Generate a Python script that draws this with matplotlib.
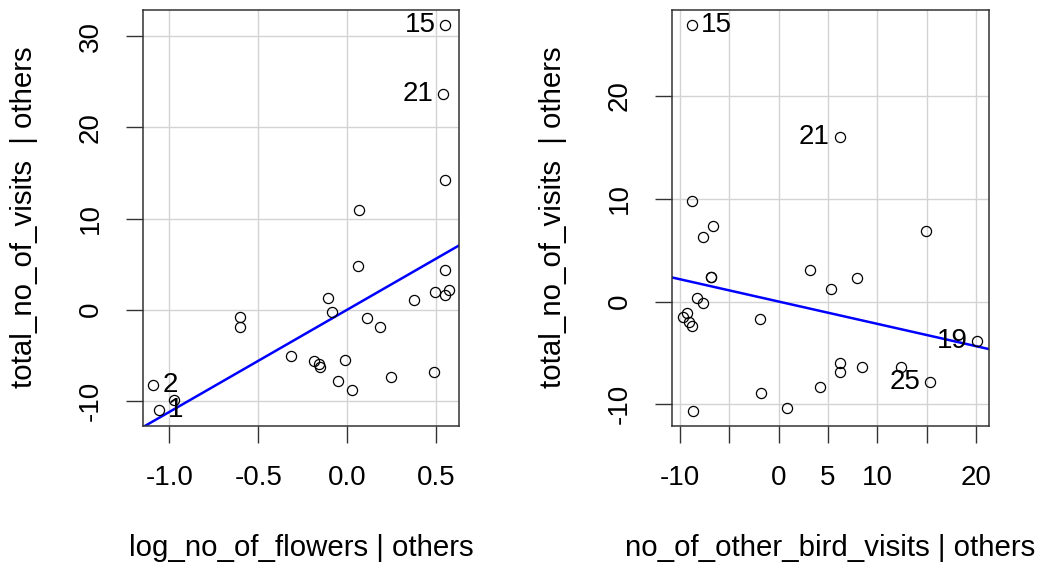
import numpy as np
import matplotlib
matplotlib.use('Agg')
import matplotlib.pyplot as plt

plt.rcParams['font.family'] = ['Liberation Sans', 'DejaVu Sans']

# added-variable plot 1: log_no_of_flowers
flowers_x = [0.552, 0.541, 0.552, 0.069, 0.060, 0.551, 0.496, 0.551, 0.570, 0.375,
             -0.109, -0.086, -0.601, -0.601, 0.112, 0.187, -0.315, -0.184, -0.160, -0.155,
             -0.011, -0.049, 0.028, 0.244, 0.489, -1.090, -0.976, -1.060]
flowers_y = [31.2, 23.6, 14.2, 10.95, 4.8, 4.4, 1.97, 1.64, 2.19, 1.1,
             1.24, -0.25, -0.8, -1.9, -0.9, -1.9, -5.04, -5.6, -6.0, -6.3,
             -5.5, -7.85, -8.76, -7.4, -6.8, -8.3, -9.86, -11.0]
flowers_labels = {0: '15', 1: '21', 25: '2', 27: '1'}
flowers_slope = 11.2

# added-variable plot 2: no_of_other_bird_visits
birds_x = [-8.82, 6.18, -8.82, -6.69, -7.70, 14.9, 3.17, 7.97, 5.34, -6.89,
           -6.85, -8.24, -7.64, -9.32, -9.73, -9.06, -8.82, -1.93, 20.13, 6.18,
           6.18, 8.41, 12.43, 15.34, 4.22, -1.75, 0.81, -8.68]
birds_y = [26.9, 16.04, 9.77, 7.37, 6.27, 6.85, 3.09, 2.27, 1.2, 2.43,
           2.35, 0.33, -0.16, -1.13, -1.52, -1.95, -2.37, -1.72, -3.8, -5.95,
           -6.89, -6.4, -6.34, -7.8, -8.36, -8.89, -10.31, -10.64]
birds_labels = {0: '15', 1: '21', 18: '19', 23: '25'}
birds_slope = -0.217

fs = 20      # tick labels and point ids
fs_lab = 21.2  # axis titles
W, H = 1039, 569
fig = plt.figure(figsize=(W / 100, H / 100), dpi=100)


def av_panel(rect, x, y, labels, slope, xlim, ylim, xticks, xticklabels, yticks, xlabel):
    ax = fig.add_axes(rect)
    ax.grid(True, color='#d3d3d3', lw=1)
    ax.set_axisbelow(True)
    ax.plot(x, y, 'o', mfc='none', mec='black', ms=7.3, mew=0.9, zorder=3)
    xs = np.array(xlim)
    ax.plot(xs, slope * xs, color='blue', lw=1.8, zorder=2)
    xm = np.mean(x)
    for i, t in labels.items():
        if x[i] > xm:
            ax.annotate(t, (x[i], y[i]), xytext=(-7, 0), textcoords='offset points',
                        ha='right', va='center', fontsize=fs, zorder=4)
        else:
            ax.annotate(t, (x[i], y[i]), xytext=(7, 0), textcoords='offset points',
                        ha='left', va='center', fontsize=fs, zorder=4)
    ax.set_xlim(xlim)
    ax.set_ylim(ylim)
    ax.set_xticks(xticks)
    ax.set_xticklabels(xticklabels)
    ax.set_yticks(yticks)
    ax.set_yticklabels([str(v) for v in yticks], rotation=90, va='center')
    ax.tick_params(axis='both', length=12, width=1, color='#333333', labelsize=fs)
    ax.tick_params(axis='x', pad=16)
    ax.tick_params(axis='y', pad=16)
    for s in ax.spines.values():
        s.set_color('#333333')
        s.set_linewidth(1.1)
    ax.set_xlabel(xlabel, fontsize=fs_lab, va='center')
    ax.xaxis.set_label_coords(0.5, -0.293)
    ax.set_ylabel('total_no_of_visits  | others', fontsize=fs_lab, va='center')
    ax.yaxis.set_label_coords(-0.375, 0.502)
    return ax


av_panel([143 / W, 1 - 426 / H, 316 / W, 416 / H], flowers_x, flowers_y, flowers_labels,
         flowers_slope, (-1.148, 0.629), (-12.74, 32.85),
         [-1.0, -0.5, 0.0, 0.5], ['-1.0', '-0.5', '0.0', '0.5'],
         [-10, 0, 10, 20, 30], 'log_no_of_flowers | others')

av_panel([671.7 / W, 1 - 426 / H, 317.6 / W, 416 / H], birds_x, birds_y, birds_labels,
         birds_slope, (-10.84, 21.35), (-12.11, 28.37),
         [-10, -5, 0, 5, 10, 15, 20], ['-10', '', '0', '5', '10', '', '20'],
         [-10, 0, 10, 20], 'no_of_other_bird_visits | others')

fig.savefig('out.png', dpi=100)
